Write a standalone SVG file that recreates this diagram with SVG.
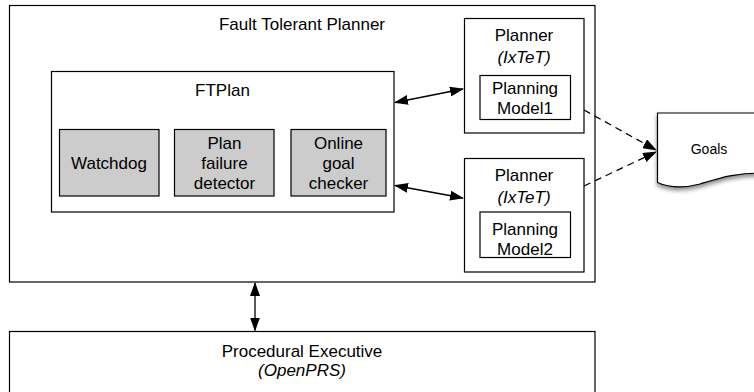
<svg xmlns="http://www.w3.org/2000/svg" width="754" height="392" viewBox="0 0 754 392">
<style>
  .box { fill: #ffffff; stroke: #000000; stroke-width: 1.2; }
  .gray { fill: #cccccc; stroke: #000000; stroke-width: 1.2; }
  text { font-family: "Liberation Sans", Arial, Helvetica, sans-serif; font-size: 17px; fill: #000000; text-anchor: middle; }
  .it { font-style: italic; }
  .small { font-size: 14px; }
  .conn { stroke: #000000; stroke-width: 1.3; fill: none; }
  .dash { stroke-dasharray: 7 5; }
</style>
<defs>
  <marker id="ah" viewBox="0 0 14 10" refX="13" refY="5" markerWidth="14" markerHeight="10" markerUnits="userSpaceOnUse" orient="auto-start-reverse">
    <path d="M0,0 L14,5 L0,10 Z" fill="#000000"/>
  </marker>
  <filter id="shadow" x="-20%" y="-20%" width="140%" height="160%">
    <feDropShadow dx="0" dy="3" stdDeviation="2" flood-color="#000000" flood-opacity="0.45"/>
  </filter>
</defs>

<g id="fault-tolerant-planner">
  <rect class="box" x="9.5" y="5.5" width="585.5" height="276.5"/>
  <text x="302" y="29.5">Fault Tolerant Planner</text>
</g>

<g id="ftplan">
  <rect class="box" x="51.5" y="71.5" width="342.5" height="140.5"/>
  <text x="222.5" y="96">FTPlan</text>
</g>

<g id="watchdog">
  <rect class="gray" x="59.5" y="129.5" width="99.5" height="66.5"/>
  <text x="109" y="168.5">Watchdog</text>
</g>

<g id="plan-failure-detector">
  <rect class="gray" x="174.5" y="129.5" width="99.5" height="66.5"/>
  <text x="224.5" y="149">Plan</text>
  <text x="224.5" y="169">failure</text>
  <text x="224.5" y="189">detector</text>
</g>

<g id="online-goal-checker">
  <rect class="gray" x="291" y="129.5" width="95" height="66.5"/>
  <text x="338.5" y="149">Online</text>
  <text x="338.5" y="169">goal</text>
  <text x="338.5" y="189">checker</text>
</g>

<g id="planner1">
  <rect class="box" x="464.5" y="18.5" width="119.5" height="114.5"/>
  <text x="524" y="41">Planner</text>
  <text class="it" x="524" y="62.5">(IxTeT)</text>
  <rect class="box" x="480" y="75.5" width="90.5" height="44"/>
  <text x="525" y="94">Planning</text>
  <text x="525" y="114">Model1</text>
</g>

<g id="planner2">
  <rect class="box" x="464.5" y="158.5" width="119.5" height="113.5"/>
  <text x="524" y="180.5">Planner</text>
  <text class="it" x="524" y="202.5">(IxTeT)</text>
  <rect class="box" x="480" y="212" width="90.5" height="45.5"/>
  <text x="525" y="235">Planning</text>
  <text x="525" y="254.5">Model2</text>
</g>

<g id="goals">
  <path class="box" filter="url(#shadow)" d="M657.5,113 H760 V173 C735,173 720,178 700,184 C685,188 670,188 657.5,182.5 Z"/>
  <text class="small" x="709" y="154">Goals</text>
</g>

<g id="procedural-executive">
  <rect class="box" x="9.5" y="331.5" width="585.5" height="70"/>
  <text x="302" y="357">Procedural Executive</text>
  <text class="it" x="302" y="376">(OpenPRS)</text>
</g>

<g id="connectors">
  <line class="conn" x1="395" y1="102.5" x2="463" y2="89" marker-start="url(#ah)" marker-end="url(#ah)"/>
  <line class="conn" x1="395" y1="185.5" x2="463" y2="198" marker-start="url(#ah)" marker-end="url(#ah)"/>
  <line class="conn" x1="255" y1="283" x2="255" y2="330.5" marker-start="url(#ah)" marker-end="url(#ah)"/>
  <line class="conn dash" x1="584" y1="110" x2="656" y2="150" marker-end="url(#ah)"/>
  <line class="conn dash" x1="584" y1="186" x2="656" y2="152" marker-end="url(#ah)"/>
</g>
</svg>
